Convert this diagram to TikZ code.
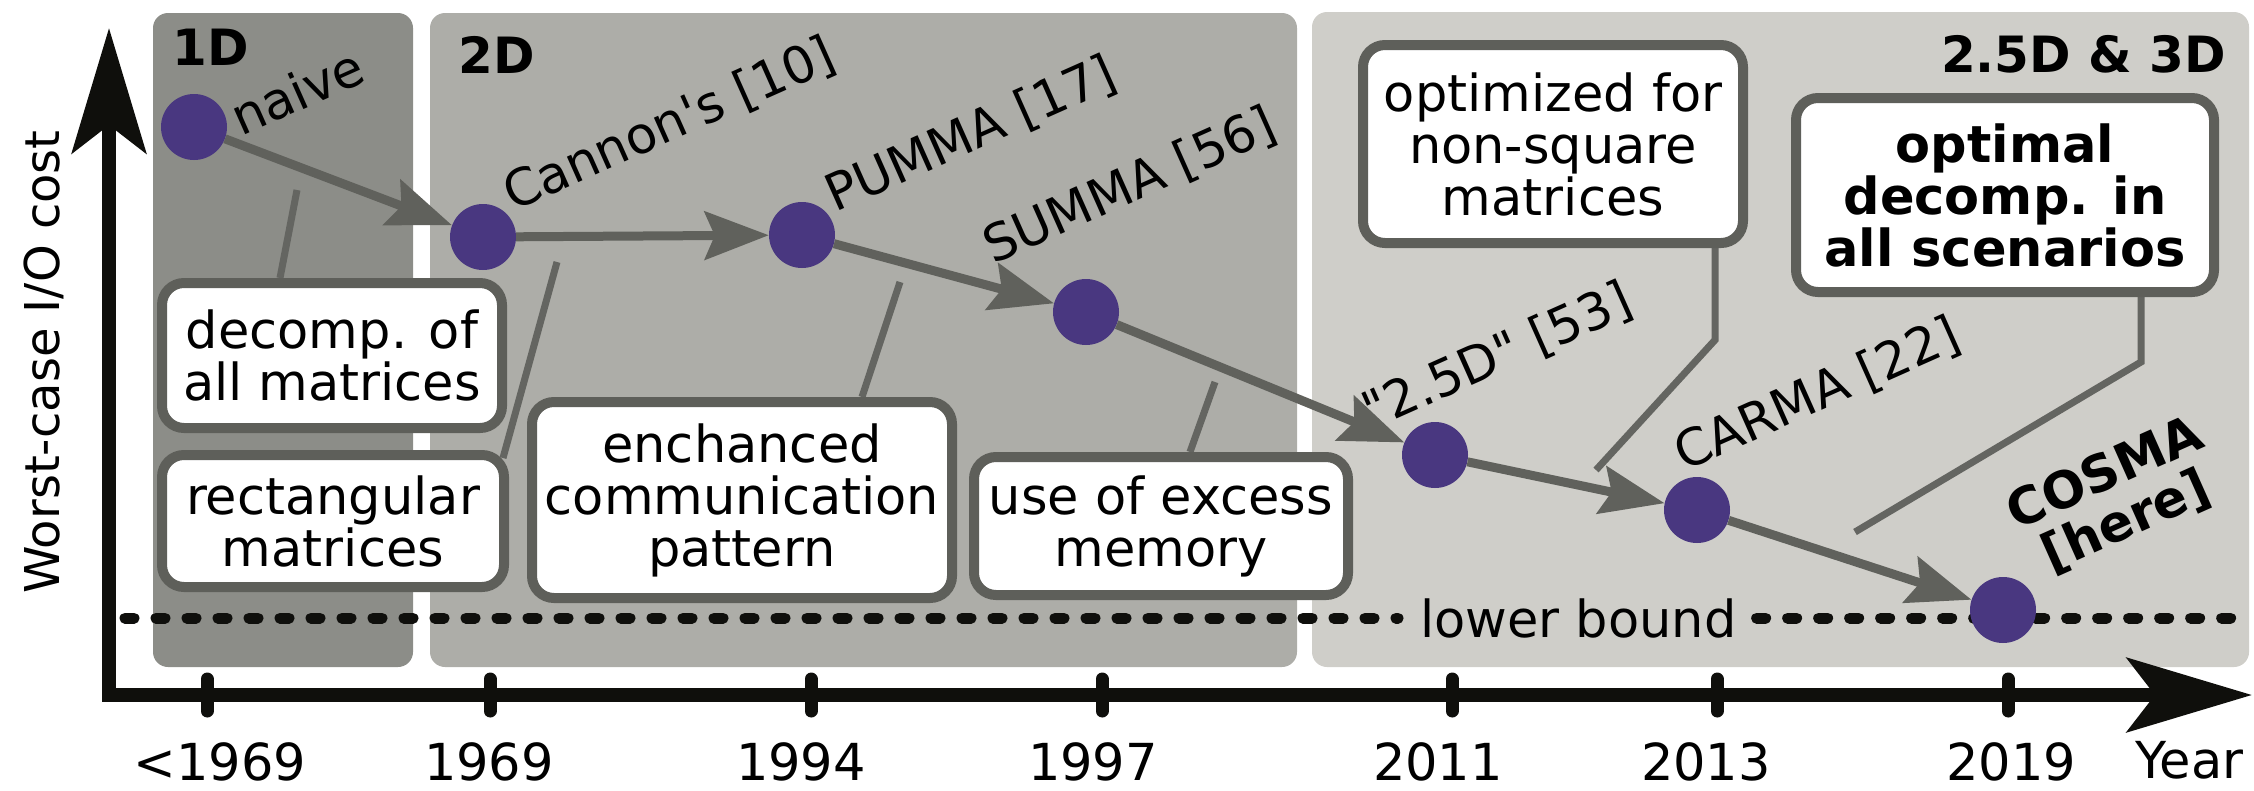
\documentclass[tikz,border=0pt]{standalone}
\usepackage{fontspec}
\setmainfont{DejaVu Sans}
\usetikzlibrary{arrows.meta,backgrounds,calc}
\definecolor{eraA}{RGB}{140,141,136}
\definecolor{eraB}{RGB}{173,173,168}
\definecolor{eraC}{RGB}{207,206,201}
\definecolor{boxedge}{RGB}{94,95,90}
\definecolor{leadink}{RGB}{100,101,97}
\definecolor{flowink}{RGB}{96,97,92}
\definecolor{dotink}{RGB}{73,55,128}
\definecolor{axink}{RGB}{15,15,12}
\tikzset{
  txt/.style={font=\fontsize{51pt}{52pt}\selectfont},
  panel/.style={rounded corners=15pt},
  milestone/.style={circle, fill=dotink, inner sep=0pt, minimum size=66pt},
  flow/.style={draw=flowink, line width=9pt, -{Stealth[length=64pt,width=48pt,inset=10pt]}},
  lead/.style={draw=leadink, line width=7pt},
  note/.style={
    txt, draw=boxedge, fill=white, line width=10pt, rounded corners=22pt,
    align=center, inner sep=0pt
  },
  tag/.style={txt, rotate=24, anchor=base west, inner sep=0pt},
  yr/.style={txt, anchor=base, inner sep=0pt, text depth=0pt},
  era/.style={font=\fontsize{50pt}{52pt}\selectfont\bfseries, inner sep=0pt},
  axisline/.style={draw=axink, line width=14pt},
  yrtick/.style={draw=axink, line width=13pt, line cap=round},
  bound/.style={draw=axink, line width=11pt, line cap=round, dash pattern=on 9pt off 22pt}
}

\begin{document}
\begin{tikzpicture}[x=1pt,y=-1pt]
  \useasboundingbox (0,0) rectangle (2254,790);
  % era panels
  \begin{scope}[on background layer]
    \fill[panel, eraA] (153,13) rectangle (413,667);
    \fill[panel, eraB] (430,13) rectangle (1297,667);
    \fill[panel, eraC] (1312,12) rectangle (2249,667);
  \end{scope}
  \node[era, anchor=base west] (eraOne) at (172,65) {1D};
  \node[era, anchor=base west] (eraTwo) at (458,73) {2D};
  \node[era, anchor=base east] (eraThree) at (2226,72) {2.5D \& 3D};

  % axes
  \coordinate (origin) at (109,695);
  \draw[axisline, {Stealth[length=125pt,width=74pt,inset=28pt]}-{Stealth[length=125pt,width=74pt,inset=28pt]}]
    (109,28) -- (origin) -- (2252,695);
  \node[rotate=90, anchor=base, inner sep=0pt, font=\fontsize{48pt}{52pt}\selectfont]
    (costL) at (59,362) {Worst-case I/O cost};
  \foreach \x/\lx/\yr [count=\i] in {207/220/{<1969}, 490/489/1969, 811/801/1994,
      1102/1093/1997, 1452/1438/2011, 1717/1706/2013, 2008/2011/2019} {
    \draw[yrtick] (\x,679) -- (\x,711);
    \node[yr] (yr\i) at (\lx,780) {\yr};
  }
  \node[yr, anchor=base west] (yearL) at (2135,778) {Year};

  % lower bound
  \node[txt, anchor=west, inner sep=0pt] (lowb) at (1420,618) {lower bound};
  \begin{scope}[on background layer]
    \coordinate (lbA) at (125,618);
    \coordinate (lbB) at (2243,618);
    \draw[bound] (lbA) -- ([xshift=-22pt]lowb.west);
    \draw[bound] ([xshift=20pt]lowb.east) -- (lbB);
  \end{scope}

  % milestones
  \node[milestone] (naive) at (194,127) {};
  \node[milestone] (cannon) at (483,237) {};
  \node[milestone] (pumma) at (802,235) {};
  \node[milestone] (summa) at (1086,312) {};
  \node[milestone] (twohalf) at (1435,455) {};
  \node[milestone] (carma) at (1697,510) {};
  \node[milestone] (cosma) at (2003,610) {};
  \node[tag] (naiveL) at (241,137) {naive};
  \node[tag] (cannonL) at (513,212) {Cannon\textquotesingle s [10]};
  \node[tag] (pummaL) at (835,213) {PUMMA [17]};
  \node[tag] (summaL) at (993,265) {SUMMA [56]};
  \node[tag] (twohalfL) at (1372,430) {\textquotedbl 2.5D\textquotedbl{} [53]};
  \node[tag] (carmaL) at (1684,472) {CARMA [22]};
  \node[tag, anchor=center, align=center, font=\fontsize{51pt}{52pt}\selectfont\bfseries]
    (cosmaL) at (2116,498) {COSMA\\{[here]}};
  \draw[flow] (naive) -- (cannon);
  \draw[flow] (cannon) -- (pumma);
  \draw[flow] (pumma) -- (summa);
  \draw[flow] (summa) -- (twohalf);
  \draw[flow] (twohalf) -- (carma);
  \draw[flow] (carma) -- (cosma);

  % notes
  \node[note, minimum width=340pt, minimum height=145pt] (decomp) at (332,355.5) {decomp. of\\all matrices};
  \node[note, minimum width=342pt, minimum height=132pt] (rect) at (333,521) {rectangular\\matrices};
  \node[note, minimum width=420pt, minimum height=196pt] (ench) at (742,500) {enchanced\\communication\\pattern};
  \node[note, minimum width=374pt, minimum height=138pt] (excess) at (1161,526) {use of excess\\memory};
  \node[note, minimum width=380pt, minimum height=198pt] (nonsq) at (1553,144) {optimized for\\non-square\\matrices};
  \node[note, minimum width=418pt, minimum height=194pt, font=\fontsize{51pt}{52pt}\selectfont\bfseries]
    (optim) at (2005,195) {optimal\\decomp. in\\all scenarios};

  % leaders from the notes
  \begin{scope}[on background layer]
    \coordinate (decompTip) at (297,190);
    \coordinate (rectTip) at (557,262);
    \coordinate (enchTip) at (900,282);
    \coordinate (excessTip) at (1215,382);
    \coordinate (nonsqTip) at (1596,470);
    \coordinate (optimTip) at (1855,532);
    \draw[lead] (decompTip) -- ([xshift=-52pt]decomp.north);
    \draw[lead] (rectTip) -- ([xshift=-6pt,yshift=-8pt]rect.north east);
    \draw[lead] (enchTip) -- ([xshift=120pt]ench.north);
    \draw[lead] (excessTip) -- ([xshift=29pt]excess.north);
    \draw[lead] ([xshift=162pt]nonsq.south) -- ++(0,92) -- (nonsqTip);
    \draw[lead] ([xshift=136pt]optim.south) -- ++(0,65) -- (optimTip);
  \end{scope}
\end{tikzpicture}
\end{document}
